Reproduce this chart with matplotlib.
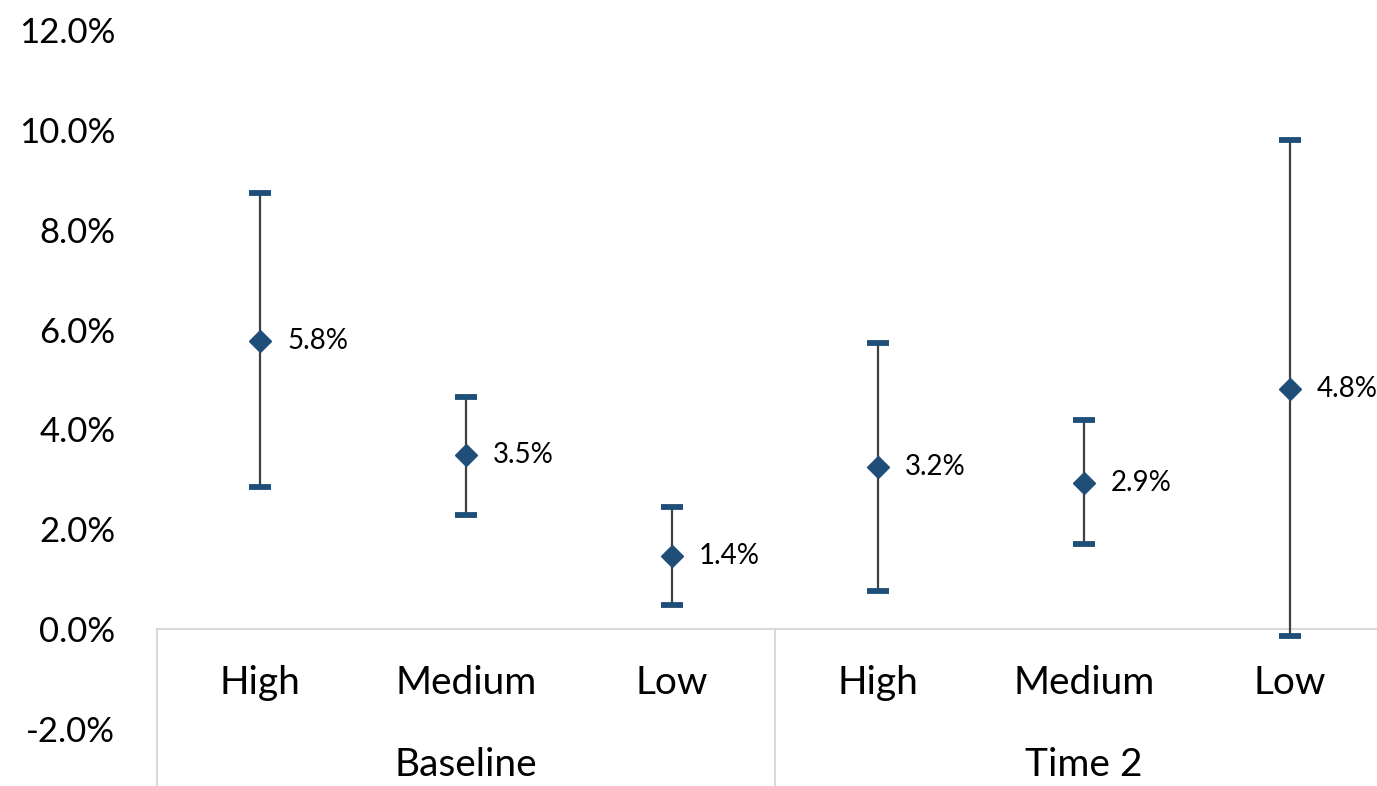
import numpy as np
import matplotlib.pyplot as plt
import matplotlib.ticker as mticker

# datos
categorias = ['High', 'Medium', 'Low', 'High', 'Medium', 'Low']
grupos = ['Baseline', 'Time 2']
valores = [5.8, 3.5, 1.4, 3.2, 2.9, 4.8]
centro = [5.78, 3.48, 1.46, 3.25, 2.93, 4.81]
superior = [8.73, 4.65, 2.44, 5.73, 4.19, 9.80]
inferior = [2.85, 2.29, 0.48, 0.76, 1.70, -0.14]

azul = '#1f4e79'
gris = '#404040'

fig = plt.figure(figsize=(13.77, 7.86), dpi=100)
ax = fig.add_axes([157/1377, 57/786, 1236/1377, 699/786])

x = np.arange(len(categorias))

# barras de error
ax.vlines(x, inferior, superior, color=gris, lw=1.6, zorder=2)
ax.plot(x, superior, ls='none', marker='_', ms=16.5, mew=4.2, color=azul, zorder=3)
ax.plot(x, inferior, ls='none', marker='_', ms=16.5, mew=4.2, color=azul, zorder=3)
ax.plot(x, centro, ls='none', marker='D', ms=11.5, color=azul, zorder=4)

for xi, yi, v in zip(x, centro, valores):
    ax.annotate(f'{v:.1f}%', (xi, yi), xytext=(19.5, 0), textcoords='offset points',
                va='center', ha='left', fontsize=20, family='Lato', color='black')

ax.set_xlim(-0.5, 5.5)
ax.set_ylim(-2, 12)
ax.set_yticks(np.arange(-2, 13, 2))
ax.yaxis.set_major_formatter(mticker.FuncFormatter(lambda v, p: f'{v:.1f}%'))
ax.tick_params(axis='y', length=0, pad=30, labelsize=25, labelfontfamily='Lato')
ax.set_xticks([])
for s in ax.spines.values():
    s.set_visible(False)

# eje horizontal y separadores
ax.axhline(0, color='#d9d9d9', lw=1.5, zorder=1)
for xs in [-0.5, 2.5, 5.5]:
    ax.plot([xs, xs], [0, -3.2], color='#d9d9d9', lw=1.5, clip_on=False)

for xi, c in zip(x, categorias):
    ax.text(xi, -1.08, c, ha='center', va='center', fontsize=28, family='Lato', clip_on=False)
for i, g in enumerate(grupos):
    ax.text(1 + 3*i, -2.72, g, ha='center', va='center', fontsize=28, family='Lato', clip_on=False)

fig.savefig('out.png', dpi=100)
